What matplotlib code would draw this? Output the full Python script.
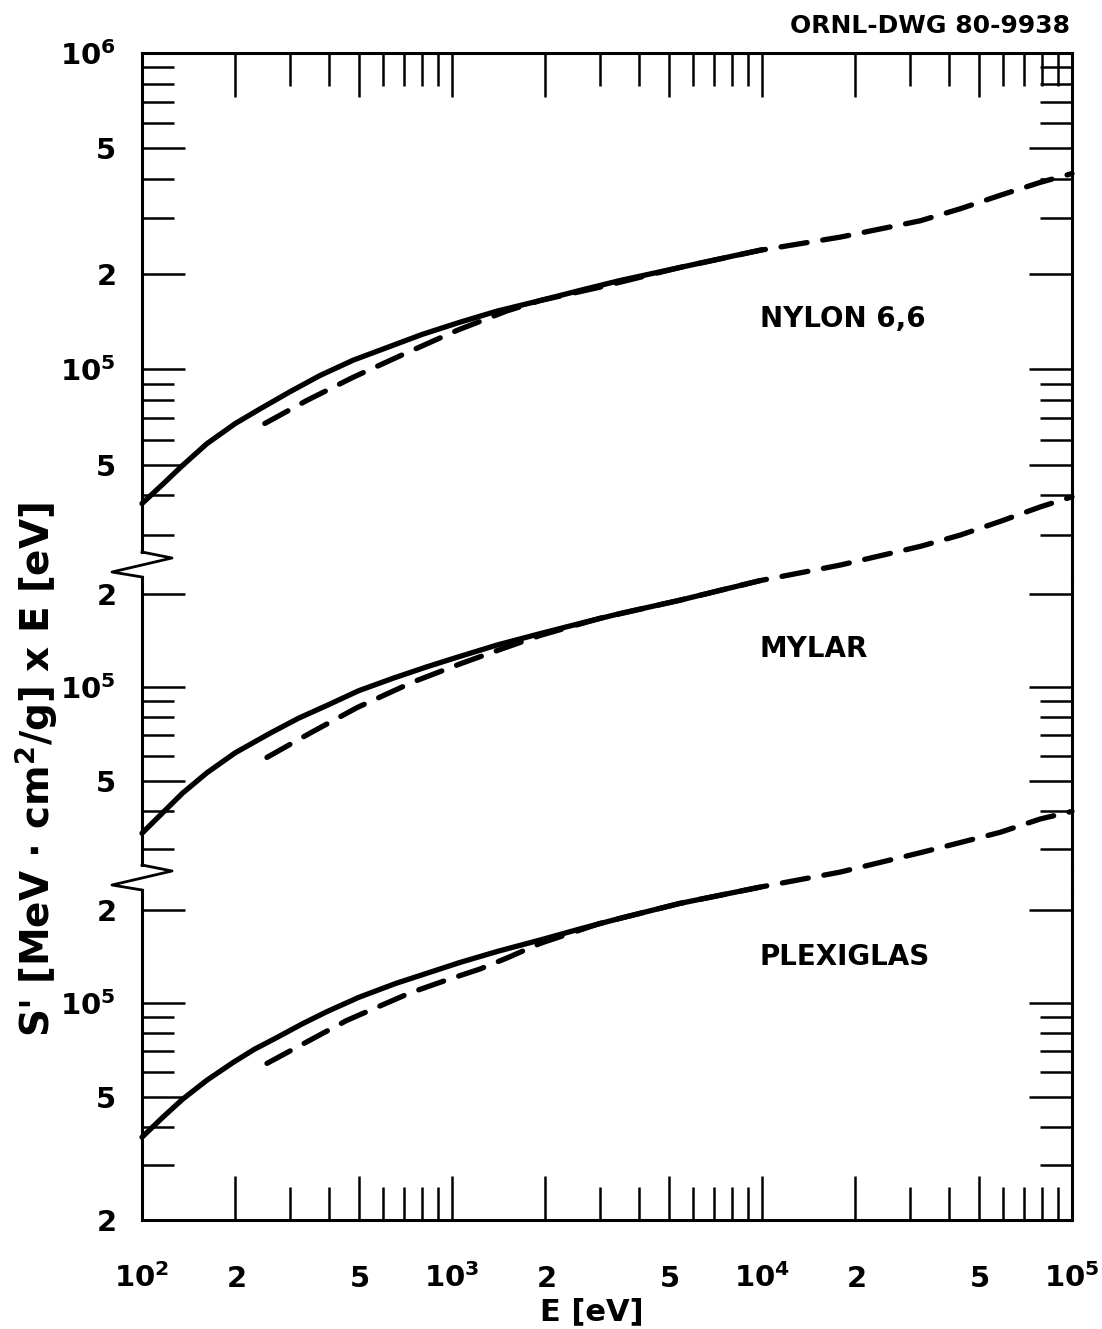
import numpy as np
import matplotlib
matplotlib.use("Agg")
import matplotlib.pyplot as plt
from matplotlib.lines import Line2D
from matplotlib.ticker import LogLocator, FuncFormatter, NullFormatter

nylon_solid_E = [100, 117, 135, 162, 200, 240, 300, 375, 480, 620, 800, 1060, 1400, 1920, 2600, 3480, 5430, 10000]
nylon_solid_V = [3.77e4, 4.35e4, 4.97e4, 5.83e4, 6.75e4, 7.5e4, 8.5e4, 9.57e4, 1.07e5, 1.175e5, 1.29e5,
                 1.41e5, 1.53e5, 1.65e5, 1.78e5, 1.91e5, 2.10e5, 2.39e5]
nylon_dash_E = [249, 340, 480, 716, 1040, 1500, 1920, 3000, 5430, 9860, 17900, 32400, 43600, 58600, 78900, 100000]
nylon_dash_V = [6.75e4, 7.98e4, 9.45e4, 1.13e5, 1.33e5, 1.53e5, 1.65e5, 1.82e5, 2.10e5, 2.38e5, 2.62e5, 2.95e5,
                3.22e5, 3.55e5, 3.90e5, 4.16e5]

mylar_solid_E = [100, 117, 135, 162, 200, 259, 320, 395, 500, 646, 820, 1038, 1400, 1923, 2600, 3483, 5430, 9860]
mylar_solid_V = [3.38e4, 3.95e4, 4.55e4, 5.30e4, 6.15e4, 7.11e4, 7.95e4, 8.74e4, 9.75e4, 1.07e5, 1.16e5,
                 1.25e5, 1.37e5, 1.49e5, 1.61e5, 1.73e5, 1.91e5, 2.21e5]
mylar_dash_E = [253, 348, 494, 748, 1062, 1327, 1923, 3000, 5430, 9860, 17870, 32400, 43600, 58600, 78900, 100000]
mylar_dash_V = [5.94e4, 7.11e4, 8.60e4, 1.04e5, 1.19e5, 1.29e5, 1.47e5, 1.67e5, 1.91e5, 2.21e5, 2.48e5, 2.85e5,
                3.10e5, 3.43e5, 3.82e5, 4.12e5]

plexi_solid_E = [100, 117, 135, 162, 197, 230, 272, 330, 395, 500, 660, 830, 1062, 1400, 1923, 2600, 3483, 5430, 9860]
plexi_solid_V = [3.70e4, 4.30e4, 4.90e4, 5.65e4, 6.45e4, 7.10e4, 7.75e4, 8.60e4, 9.40e4, 1.045e5, 1.16e5, 1.25e5,
                 1.355e5, 1.47e5, 1.60e5, 1.74e5, 1.88e5, 2.10e5, 2.37e5]
plexi_dash_E = [253, 348, 458, 732, 964, 1231, 1504, 1923, 3000, 5430, 9860, 17870, 32400, 43600, 58600, 78900, 100000]
plexi_dash_V = [6.40e4, 7.60e4, 8.81e4, 1.08e5, 1.19e5, 1.29e5, 1.40e5, 1.56e5, 1.81e5, 2.10e5, 2.37e5, 2.65e5,
                3.06e5, 3.30e5, 3.56e5, 3.93e5, 4.16e5]

materials = ["NYLON 6,6", "MYLAR", "PLEXIGLAS"]
panel_ylims = [(2.65e4, 1e6), (2.67e4, 2.27e5), (2.0e4, 2.32e5)]

# layout in pixels of the original
W, H = 1102, 1329
X0, X1 = 142, 1072
panels_px = [(53, 552), (577, 865), (890, 1220)]

plt.rcParams["font.family"] = "DejaVu Sans"
plt.rcParams["font.weight"] = "bold"
plt.rcParams["mathtext.default"] = "bf"


def fx(x):
    return x / W


def fy(y):
    return 1 - y / H


def fmt(v, pos):
    e = int(np.floor(np.log10(v) + 1e-9))
    m = int(round(v / 10 ** e))
    if m == 1:
        return "$10^{%d}$" % e
    return "$%d$" % m


fig = plt.figure(figsize=(W / 100, H / 100), dpi=100)

series = [
    (nylon_solid_E, nylon_solid_V, nylon_dash_E, nylon_dash_V),
    (mylar_solid_E, mylar_solid_V, mylar_dash_E, mylar_dash_V),
    (plexi_solid_E, plexi_solid_V, plexi_dash_E, plexi_dash_V),
]

axes = []
for i, (top, bot) in enumerate(panels_px):
    ax = fig.add_axes([fx(X0), fy(bot), fx(X1 - X0), (bot - top) / H])
    sE, sV, dE, dV = series[i]
    # curves run on past the break, as in the drawing
    ax.plot(sE, sV, color="black", lw=3.8, solid_capstyle="round", solid_joinstyle="round", clip_on=False)
    ax.plot(dE, dV, color="black", lw=3.8, dashes=(5, 3), dash_capstyle="round", clip_on=False)

    ax.set_xscale("log")
    ax.set_yscale("log")
    ax.set_xlim(1e2, 1e5)
    ax.set_ylim(*panel_ylims[i])

    for axis in (ax.xaxis, ax.yaxis):
        axis.set_major_locator(LogLocator(base=10, subs=(1, 2, 5)))
        axis.set_minor_locator(LogLocator(base=10, subs=(3, 4, 6, 7, 8, 9)))
        axis.set_major_formatter(FuncFormatter(fmt))
        axis.set_minor_formatter(NullFormatter())

    ax.tick_params(axis="y", which="both", direction="in", left=True, right=True,
                   width=1.8, labelsize=21)
    ax.tick_params(axis="y", which="major", length=31, pad=19)
    ax.tick_params(axis="y", which="minor", length=23)

    ax.tick_params(axis="x", which="both", direction="in", width=1.8, labelsize=21,
                   top=(i == 0), bottom=(i == 2), labelbottom=(i == 2))
    ax.tick_params(axis="x", which="major", length=32, pad=48)
    ax.tick_params(axis="x", which="minor", length=24)

    for s in ax.spines.values():
        s.set_linewidth(2.2)
    if i > 0:
        ax.spines["top"].set_visible(False)
    if i < 2:
        ax.spines["bottom"].set_visible(False)
    axes.append(ax)

# axis break marks on the left, plain joins on the right
for top_gap, bot_gap in [(552, 577), (865, 890)]:
    zx = [X0, X0 + 30, X0 - 30, X0]
    zy = [top_gap, top_gap + 6, bot_gap - 5, bot_gap]
    fig.add_artist(Line2D([fx(v) for v in zx], [fy(v) for v in zy],
                          transform=fig.transFigure, color="black", lw=2.0))
    fig.add_artist(Line2D([fx(X1), fx(X1)], [fy(top_gap), fy(bot_gap)],
                          transform=fig.transFigure, color="black", lw=2.2))

# material names
label_y = [327, 657, 965]
for name, yb in zip(materials, label_y):
    fig.text(fx(760), fy(yb), name, fontsize=20, fontweight="bold", va="baseline", ha="left")

fig.text(fx(1070), fy(33), "ORNL-DWG 80-9938", fontsize=18, fontweight="bold",
         ha="right", va="baseline")
fig.text(fx(592), fy(1320), "E [eV]", fontsize=22, fontweight="bold", ha="center", va="baseline")
fig.text(fx(36), fy(770), "S' [MeV $\\cdot$ cm$^{2}$/g] x E [eV]", fontsize=28,
         fontweight="bold", rotation=90, ha="center", va="center")

fig.canvas.draw()
for t in axes[2].xaxis.get_major_ticks():
    t.label1.set_verticalalignment("baseline")

fig.savefig("out.png", dpi=100)
